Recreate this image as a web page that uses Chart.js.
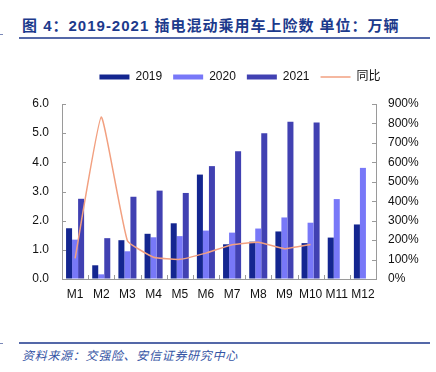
<!DOCTYPE html>
<html>
<head>
<meta charset="utf-8">
<script src="https://cdn.jsdelivr.net/npm/chart.js@4/dist/chart.umd.min.js"></script>
<style>
    body { margin: 0; background: #fff; }
    #page { position: relative; width: 436px; height: 372px; overflow: hidden; font-family: "Liberation Sans", Arial, "Noto Sans CJK SC", sans-serif; }
    #title { position: absolute; left: 22px; top: 14px; font-size: 15px; font-weight: bold; color: #1c3a8c; white-space: nowrap; letter-spacing: 1px; }
    .rule { position: absolute; left: 19px; width: 411px; height: 2px; background: #5468a8; }
    .mark { position: absolute; left: 0; width: 3px; height: 1px; background: #7a88b8; }
    #source { position: absolute; left: 22px; top: 346px; font-size: 12px; font-style: italic; color: #3454a4; white-space: nowrap; letter-spacing: 0.7px; font-family: "Noto Sans CJK SC", sans-serif; }
    #chart { position: absolute; left: 0; top: 60px; }
</style>
</head>
<body>
<div id="page">
    <div id="title">图&nbsp;4：2019-2021 插电混动乘用车上险数 单位：万辆</div>
    <div class="rule" style="top: 37px;"></div>
    <div class="mark" style="top: 34px;"></div>
    <canvas id="chart" width="480" height="250"></canvas>
    <div class="rule" style="top: 342px;"></div>
    <div class="mark" style="top: 343px;"></div>
    <div id="source">资料来源：交强险、安信证券研究中心</div>
</div>
<script>
// values (万辆 and %)
const months = ['M1', 'M2', 'M3', 'M4', 'M5', 'M6', 'M7', 'M8', 'M9', 'M10', 'M11', 'M12'];
const sales2019 = [1.74, 0.47, 1.33, 1.55, 1.91, 3.58, 1.19, 1.28, 1.63, 1.23, 1.42, 1.87];
const sales2020 = [1.35, 0.16, 0.95, 1.43, 1.47, 1.66, 1.59, 1.73, 2.11, 1.93, 2.74, 3.81];
const sales2021 = [2.75, 1.40, 2.82, 3.03, 2.95, 3.87, 4.38, 5.00, 5.39, 5.37, null, null];
const yoy = [106, 833, 197, 112, 101, 133, 176, 189, 156, 178, null, null];
const leftTicks = [0, 1, 2, 3, 4, 5, 6];
const rightTicks = [0, 100, 200, 300, 400, 500, 600, 700, 800, 900];

Chart.defaults.font.family = '"Liberation Sans", Arial, "Noto Sans CJK SC", sans-serif';
Chart.defaults.font.size = 12;
Chart.defaults.color = '#111';

// extra room under the legend
const legendGap =
{
    id: 'legendGap',
    beforeInit(chart)
    {
        const fit = chart.legend.fit;
        chart.legend.fit = function()
        {
            fit.bind(chart.legend)();
            this.height += 11;
        };
    }
};

// tick marks pointing into the plot, like the original
const innerTicks =
{
    id: 'innerTicks',
    afterDatasetsDraw(chart)
    {
        const ctx = chart.ctx;
        const area = chart.chartArea;
        const x = chart.scales.x;
        const y = chart.scales.y;
        const y1 = chart.scales.y1;
        ctx.save();
        ctx.strokeStyle = '#9a9a9a';
        ctx.lineWidth = 1;
        ctx.beginPath();
        for (let i = 0; i <= months.length; i++)
        {
            const px = Math.round(x.getPixelForValue(i - 0.5)) + 0.5;
            ctx.moveTo(px, area.bottom);
            ctx.lineTo(px, area.bottom - 4);
        }
        leftTicks.forEach(v =>
        {
            const py = Math.round(y.getPixelForValue(v)) + 0.5;
            ctx.moveTo(area.left, py);
            ctx.lineTo(area.left + 4, py);
        });
        rightTicks.forEach(v =>
        {
            const py = Math.round(y1.getPixelForValue(v)) + 0.5;
            ctx.moveTo(area.right, py);
            ctx.lineTo(area.right - 4, py);
        });
        ctx.stroke();
        ctx.restore();
    }
};

const config =
{
    type: 'bar',
    data:
    {
        labels: months,
        datasets:
        [
            { label: '2019', data: sales2019, backgroundColor: '#142690', yAxisID: 'y', pointStyle: 'rect', order: 2 },
            { label: '2020', data: sales2020, backgroundColor: '#7878f8', yAxisID: 'y', pointStyle: 'rect', order: 2 },
            { label: '2021', data: sales2021, backgroundColor: '#4141b2', yAxisID: 'y', pointStyle: 'rect', order: 2 },
            {
                type: 'line',
                label: '同比',
                data: yoy,
                yAxisID: 'y1',
                borderColor: '#f2a080',
                backgroundColor: '#f2a080',
                borderWidth: 1.5,
                pointRadius: 0,
                pointStyle: 'line',
                tension: 0.12,
                order: 1
            }
        ]
    },
    options:
    {
        responsive: false,
        animation: false,
        layout: { padding: 0 },
        datasets:
        {
            bar: { categoryPercentage: 0.69, barPercentage: 1.0, borderWidth: 0 }
        },
        plugins:
        {
            legend:
            {
                position: 'top',
                labels:
                {
                    usePointStyle: true,
                    pointStyleWidth: 30,
                    boxHeight: 5,
                    padding: 11,
                    color: '#111',
                    font: { size: 12 },
                    sort: (a, b) => a.datasetIndex - b.datasetIndex
                }
            },
            tooltip: { enabled: false }
        },
        scales:
        {
            x:
            {
                grid: { drawOnChartArea: false, drawTicks: false },
                border: { color: '#9a9a9a' },
                ticks: { padding: 8, maxRotation: 0, autoSkip: false, color: '#111' },
                afterFit(scale) { scale.height = 31; }
            },
            y:
            {
                position: 'left',
                min: 0,
                max: 6,
                grid: { drawOnChartArea: false, drawTicks: false },
                border: { color: '#9a9a9a' },
                ticks: { stepSize: 1, padding: 13, color: '#111', callback: v => v.toFixed(1) },
                afterFit(scale) { scale.width = 62; }
            },
            y1:
            {
                position: 'right',
                min: 0,
                max: 900,
                grid: { drawOnChartArea: false, drawTicks: false },
                border: { color: '#9a9a9a' },
                ticks: { stepSize: 100, padding: 12, color: '#111', callback: v => v + '%' },
                afterFit(scale) { scale.width = 104; }
            }
        }
    },
    plugins: [legendGap, innerTicks]
};

new Chart(document.getElementById('chart'), config);
</script>
</body>
</html>
